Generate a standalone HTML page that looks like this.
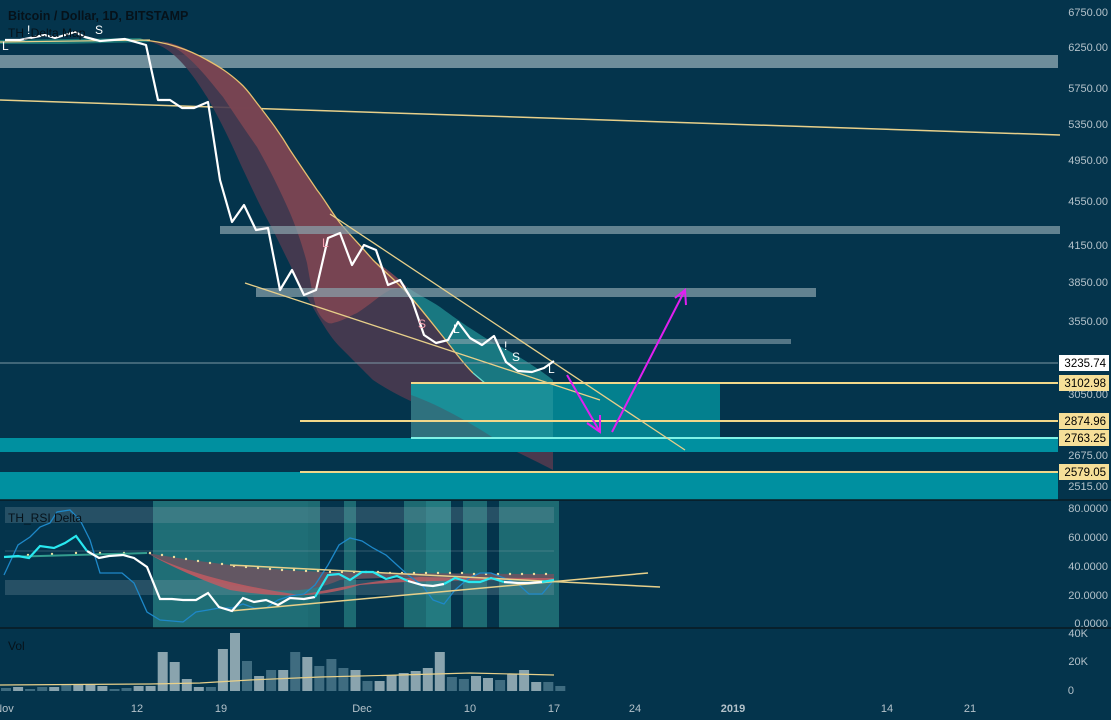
<!DOCTYPE html>
<html><head><meta charset="utf-8"><style>
html,body{margin:0;padding:0;background:#04344c;}
svg{display:block;font-family:"Liberation Sans",sans-serif;}
</style></head><body>
<svg width="1111" height="720" viewBox="0 0 1111 720" xmlns="http://www.w3.org/2000/svg">
<rect width="1111" height="720" fill="#04344c"/>
<rect x="0" y="55" width="1058" height="13" fill="#8aa4ae" opacity="0.8"/>
<line x1="0" y1="100" x2="1060" y2="135" stroke="#e8d08a" stroke-width="1.5"/>
<!-- dark ribbon: outer edge to upper curve -->
<path d="M140,40 C170,42 190,70 207,97 C220,120 230,140 240,163 C255,195 262,210 273,230 C290,265 300,285 307,297 C320,320 330,337 340,347 C355,362 365,372 373,380 C400,398 420,405 440,413 C470,428 490,438 507,447 C525,456 540,463 553,470 L553,423 C535,416 520,408 507,400 C495,392 485,383 473,373 C460,360 450,345 440,333 C428,318 418,305 407,293 C395,280 385,272 373,260 C360,245 350,235 340,223 C330,210 325,200 317,190 C305,172 298,162 290,150 C280,133 270,120 260,107 C252,97 248,90 240,83 C228,72 218,66 207,60 C185,48 165,41 140,40 Z" fill="#4a3a50" opacity="0.9"/>
<!-- brighter red band -->
<path d="M160,41 C185,48 205,75 223,97 C235,115 245,130 257,147 C270,170 280,190 290,213 C298,232 303,248 307,263 C310,280 313,298 317,310 C322,320 328,325 333,323 C345,320 350,316 357,313 C370,305 380,295 390,290 L407,287 C395,275 385,268 373,260 C360,245 350,235 340,223 C330,210 325,200 317,190 C305,172 298,162 290,150 C280,133 270,120 260,107 C252,97 248,90 240,83 C228,72 218,66 207,60 C190,50 175,43 160,41 Z" fill="#7a4452" opacity="0.95"/>
<!-- teal band -->
<path d="M407,287 C420,296 430,300 440,307 C455,318 465,325 473,330 C485,338 495,344 507,350 C525,360 540,370 553,380 L553,423 C535,416 520,408 507,400 C495,392 485,383 473,373 C460,360 450,345 440,333 C428,318 418,305 407,293 Z" fill="#1f8a8e" opacity="0.8"/>
<path d="M140,40 C165,41 190,50 207,60 C218,66 228,72 240,83 C248,90 252,97 260,107 C270,120 280,133 290,150 C298,162 305,172 317,190 C325,200 330,210 340,223 C350,235 360,245 373,260 C385,272 395,280 407,293 C418,305 428,318 440,333 C450,345 460,360 473,373" fill="none" stroke="#e8c070" stroke-width="1.3"/>
<path d="M473,373 C485,383 495,392 507,400 C520,408 535,416 553,423" fill="none" stroke="#6fe0d0" stroke-width="1.3"/>
<rect x="220" y="226" width="840" height="8" fill="#8aa4ae" opacity="0.7"/>
<rect x="256" y="288" width="560" height="9" fill="#8aa4ae" opacity="0.7"/>
<rect x="448" y="339" width="343" height="5" fill="#8aa4ae" opacity="0.6"/>
<line x1="0" y1="363" x2="1058" y2="363" stroke="#7b97a4" stroke-width="1"/>
<rect x="411" y="383" width="309" height="55" fill="#03808e"/>
<rect x="411" y="383" width="142" height="55" fill="#2a9a9e" opacity="0.6"/>
<path d="M411,395 C440,405 480,428 507,447 L553,470 L553,438 L411,438 Z" fill="#5a3a4e" opacity="0.35"/>
<rect x="0" y="438" width="1058" height="14" fill="#0090a0"/>
<rect x="0" y="472" width="1058" height="28" fill="#0090a0"/>
<line x1="411" y1="383" x2="1058" y2="383" stroke="#f2d88a" stroke-width="2"/>
<line x1="300" y1="421" x2="1058" y2="421" stroke="#f2d88a" stroke-width="2"/>
<line x1="300" y1="472" x2="1058" y2="472" stroke="#f2d88a" stroke-width="2"/>
<line x1="411" y1="438" x2="1058" y2="438" stroke="#7ff2e6" stroke-width="2"/>
<line x1="330" y1="214" x2="685" y2="450" stroke="#e8d08a" stroke-width="1.3"/>
<line x1="245" y1="283" x2="600" y2="400" stroke="#e8d08a" stroke-width="1.3"/>
<path d="M0,40 L140,38 L150,42 L60,44 L0,44Z" fill="#2aa090" opacity="0.6"/>
<line x1="0" y1="42" x2="150" y2="40" stroke="#e8d08a" stroke-width="1.2"/>
<polyline fill="none" stroke="#fff" stroke-width="2.2" stroke-linejoin="round" points="5,40 20,40 30,38 45,35 55,38 75,32 85,37 100,41 125,39 146,45 158,100 170,100 182,108 194,108 208,102 220,180 232,222 244,205 256,230 268,228 280,290 292,270 304,295 316,290 328,238 340,233 352,265 364,245 376,250 388,285 400,280 412,300 424,335 436,343 448,340 458,322 470,338 482,345 494,336 506,362 518,371 532,372 544,368 554,361"/>
<g fill="#fff" font-size="12"><text x="2" y="50">L</text><text x="27" y="34">!</text><text x="95" y="34">S</text><text x="322" y="247" fill="#f4a0b0">L</text><text x="418" y="328" fill="#f4a0b0">S</text><text x="453" y="333">L</text><text x="504" y="350">!</text><text x="512" y="361">S</text><text x="548" y="373">L</text></g>
<g stroke="#e020f0" stroke-width="2" fill="none"><line x1="567" y1="375" x2="600" y2="432"/><polyline points="587,423 600,432 600,415"/><line x1="612" y1="432" x2="685" y2="290"/><polyline points="675,298 685,290 686,305"/></g>
<text x="8" y="20" font-size="12.5" font-weight="bold" fill="#06121a">Bitcoin / Dollar, 1D, BITSTAMP</text>
<text x="8" y="37" font-size="12" fill="#06121a">TH_Delta Map</text>
<g fill="#b4c2ca" font-size="11" text-anchor="end"><text x="1108" y="16">6750.00</text><text x="1108" y="51">6250.00</text><text x="1108" y="92">5750.00</text><text x="1108" y="128">5350.00</text><text x="1108" y="164">4950.00</text><text x="1108" y="205">4550.00</text><text x="1108" y="249">4150.00</text><text x="1108" y="286">3850.00</text><text x="1108" y="325">3550.00</text><text x="1108" y="398">3050.00</text><text x="1108" y="459">2675.00</text><text x="1108" y="490">2515.00</text>
<text x="1108" y="512">80.0000</text><text x="1108" y="541">60.0000</text><text x="1108" y="570">40.0000</text><text x="1108" y="599">20.0000</text><text x="1108" y="627">0.0000</text><text x="1088" y="637">40K</text><text x="1088" y="665">20K</text><text x="1074" y="694">0</text></g>
<rect x="1059" y="355" width="50" height="16" fill="#fff"/><text x="1106" y="367" font-size="11.5" fill="#000" text-anchor="end">3235.74</text>
<g font-size="11.5" fill="#000" text-anchor="end"><rect x="1059" y="375" width="50" height="16" fill="#f6df98"/><text x="1106" y="387">3102.98</text>
<rect x="1059" y="413" width="50" height="16" fill="#f6df98"/><text x="1106" y="425">2874.96</text>
<rect x="1059" y="430" width="50" height="16" fill="#f6df98"/><text x="1106" y="442">2763.25</text>
<rect x="1059" y="464" width="50" height="16" fill="#f6df98"/><text x="1106" y="476">2579.05</text></g>
<line x1="0" y1="500" x2="1111" y2="500" stroke="#0a1a22" stroke-width="1.5"/>
<g fill="#1d6a72"><rect x="153" y="501" width="155" height="127" fill="#1f6e76"/><rect x="308" y="501" width="12" height="127"/><rect x="344" y="501" width="12" height="127"/><rect x="404" y="501" width="22" height="127"/><rect x="426" y="501" width="25" height="127" fill="#237a80"/><rect x="463" y="501" width="24" height="127"/><rect x="499" y="501" width="60" height="127"/></g>
<rect x="5" y="507" width="549" height="16" fill="#8aa4ae" opacity="0.25"/>
<rect x="5" y="580" width="549" height="15" fill="#8aa4ae" opacity="0.25"/>
<line x1="5" y1="551" x2="554" y2="551" stroke="#8aa4ae" stroke-opacity="0.35"/>
<path d="M147,553 C200,562 260,570 330,572 C420,573 500,574 554,574 L554,580 C500,578 420,575 340,580 C300,598 250,590 200,578 C175,568 160,560 147,553Z" fill="#6a5462" opacity="0.9"/>
<path d="M147,553 C180,570 230,585 300,595 C330,590 370,580 420,577 C480,578 520,578 554,578 L554,580 C480,580 420,580 360,585 C320,598 280,598 230,590 C195,578 165,563 147,553Z" fill="#c05a62" opacity="0.85"/>
<g fill="#f0e0a0"><circle cx="150" cy="553" r="1.2"/><circle cx="162" cy="555" r="1.2"/><circle cx="174" cy="557" r="1.2"/><circle cx="186" cy="559" r="1.2"/><circle cx="198" cy="561" r="1.2"/><circle cx="210" cy="563" r="1.2"/><circle cx="222" cy="564" r="1.2"/><circle cx="234" cy="566" r="1.2"/><circle cx="246" cy="567" r="1.2"/><circle cx="258" cy="568" r="1.2"/><circle cx="270" cy="569" r="1.2"/><circle cx="282" cy="570" r="1.2"/><circle cx="294" cy="570" r="1.2"/><circle cx="306" cy="571" r="1.2"/><circle cx="318" cy="571" r="1.2"/><circle cx="330" cy="572" r="1.2"/><circle cx="342" cy="572" r="1.2"/><circle cx="354" cy="572" r="1.2"/><circle cx="366" cy="572" r="1.2"/><circle cx="378" cy="572" r="1.2"/><circle cx="390" cy="573" r="1.2"/><circle cx="402" cy="573" r="1.2"/><circle cx="414" cy="573" r="1.2"/><circle cx="426" cy="573" r="1.2"/><circle cx="438" cy="573" r="1.2"/><circle cx="450" cy="573" r="1.2"/><circle cx="462" cy="573" r="1.2"/><circle cx="474" cy="574" r="1.2"/><circle cx="486" cy="574" r="1.2"/><circle cx="498" cy="574" r="1.2"/><circle cx="510" cy="574" r="1.2"/><circle cx="522" cy="574" r="1.2"/><circle cx="534" cy="574" r="1.2"/><circle cx="546" cy="574" r="1.2"/>
<circle cx="28" cy="555" r="1.2"/><circle cx="52" cy="554" r="1.2"/><circle cx="76" cy="553" r="1.2"/><circle cx="100" cy="553" r="1.2"/><circle cx="124" cy="553" r="1.2"/></g>
<line x1="5" y1="557" x2="147" y2="553" stroke="#40b8a0" stroke-width="2" opacity="0.8"/>
<polyline fill="none" stroke="#1e88c8" stroke-width="1.3" points="4,575 18,545 30,537 40,527 50,523 57,512 70,510 80,520 90,540 100,573 111,573 122,573 134,583 147,612 160,620 172,621 183,622 196,612 208,610 219,608 232,608 243,604 254,608 266,608 278,600 290,596 304,594 315,585 328,565 339,545 350,538 362,541 373,548 386,555 397,565 408,575 422,585 433,600 444,604 455,590 469,578 480,573 491,573 504,578 518,584 529,594 542,594 554,580"/>
<line x1="230" y1="565" x2="660" y2="587" stroke="#e8d08a" stroke-width="1.5"/>
<line x1="230" y1="611" x2="648" y2="573" stroke="#e8d08a" stroke-width="1.5"/>
<polyline fill="none" stroke="#fff" stroke-width="2.2" points="87,551 99,558 109,556 123,555 134,558 147,567 160,599 172,599 183,600 196,600 208,593 219,607 232,611 243,598 254,602 266,600 278,605 290,598 304,599 315,597"/>
<polyline fill="none" stroke="#28e8f0" stroke-width="2.2" points="4,557 18,556 29,558 40,546 54,548 65,543 76,536 87,551"/>
<polyline fill="none" stroke="#28e8f0" stroke-width="2.2" points="315,597 328,575 339,574 350,580 362,572 373,572 386,579 397,576 408,581"/>
<polyline fill="none" stroke="#fff" stroke-width="2.2" points="408,581 422,585 433,586 444,584"/>
<polyline fill="none" stroke="#28e8f0" stroke-width="2.2" points="444,584 455,578 469,582 480,582 491,578 504,582"/>
<polyline fill="none" stroke="#fff" stroke-width="2.2" points="504,582 518,583 529,583 542,582"/>
<polyline fill="none" stroke="#28e8f0" stroke-width="2.2" points="542,582 554,580"/>
<text x="8" y="522" font-size="12" fill="#06121a">TH_RSI Delta</text>
<line x1="0" y1="628" x2="1111" y2="628" stroke="#0a1a22" stroke-width="1.5"/>
<g id="vol"></g>
<text x="8" y="650" font-size="12" fill="#06121a">Vol</text>
<g fill="#b4c2ca" font-size="11" text-anchor="middle"><text x="4" y="712">Nov</text><text x="137" y="712">12</text><text x="221" y="712">19</text><text x="362" y="712">Dec</text><text x="470" y="712">10</text><text x="554" y="712">17</text><text x="635" y="712">24</text><text x="733" y="712" font-weight="bold">2019</text><text x="887" y="712">14</text><text x="970" y="712">21</text></g>
</svg>
<script>
var h=[3,4,2,4,4,6,6,6,5,2,3,5,5,39,29,12,4,4,42,58,30,15,21,21,39,34,25,32,23,21,10,10,16,18,20,23,39,14,12,15,13,11,17,21,9,9,5];
var light=[0,1,0,0,1,0,1,1,1,0,0,1,1,1,1,1,1,0,1,1,0,1,0,1,0,1,0,0,0,1,0,1,1,1,1,1,1,0,0,1,1,0,1,1,1,0,0];
var g=document.getElementById('vol'),s='';
for(var i=0;i<h.length;i++){var x=1+i*12.05;s+='<rect x="'+x.toFixed(1)+'" y="'+(691-h[i])+'" width="10" height="'+h[i]+'" fill="'+(light[i]?'#8aa4ae':'#3f6c80')+'"/>';}
s+='<polyline fill="none" stroke="#e8d08a" stroke-width="1.2" points="0,685 150,684 200,683 250,680 320,677 400,675 470,673 554,675"/>';
g.innerHTML=s;
</script>
</body></html>
